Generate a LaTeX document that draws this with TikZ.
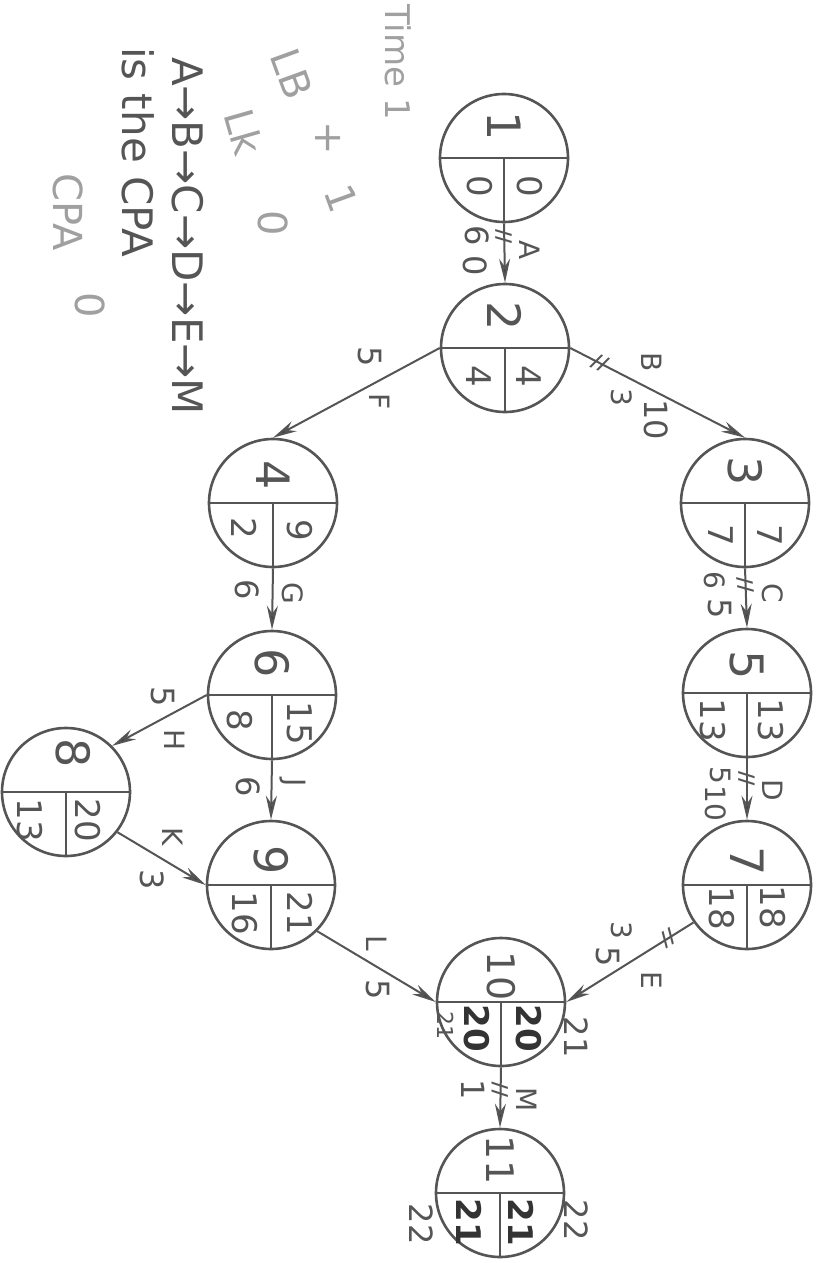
\documentclass[tikz,border=0pt]{standalone}
\usepackage{fontspec}
\setmainfont{DejaVu Sans}
\usetikzlibrary{positioning,arrows.meta}
\definecolor{pencil}{HTML}{555555}
\definecolor{faint}{HTML}{A0A0A0}

\begin{document}
\begin{tikzpicture}[x=1pt, y=-1pt, >={Stealth[length=24pt,width=11pt,fill=black!75]},
  event/.style={draw=pencil, circle, line width=2.6pt, minimum size=128pt, inner sep=0pt},
  split/.style={draw=pencil, line width=1.4pt},
  act/.style={draw=pencil, line width=2pt, ->},
  evnum/.style={rotate=-90, text=pencil, font=\fontsize{46}{46}\selectfont},
  tval/.style={rotate=-90, text=pencil, font=\fontsize{34}{34}\selectfont},
  scrib/.style={rotate=-90, text=black!80, font=\fontsize{34}{34}\selectfont\bfseries},
  alab/.style={rotate=-90, text=pencil, font=\fontsize{28}{28}\selectfont},
  adur/.style={rotate=-90, text=pencil, font=\fontsize{32}{32}\selectfont},
  crit/.style={sloped, text=pencil, inner sep=0pt, font=\fontsize{20}{20}\selectfont\bfseries},
  note/.style={rotate=-90, text=faint, font=\fontsize{40}{40}\selectfont}]
  \useasboundingbox (0,0) rectangle (826,1263);

  % events
  \node[event] (n1) at (504,158) {};
  \node[event] (n2) at (505,348) {};
  \node[event] (n3) at (745,503) {};
  \node[event] (n4) at (273,503) {};
  \node[event] (n5) at (747,693) {};
  \node[event] (n6) at (272,695) {};
  \node[event] (n7) at (747,885) {};
  \node[event] (n8) at (66,792) {};
  \node[event] (n9) at (271,885) {};
  \node[event] (n10) at (501,1002) {};
  \node[event] (n11) at (500,1193) {};

  \draw[split] (n1.west) -- (n1.east) (n1.center) -- (n1.south);
  \draw[split] (n2.west) -- (n2.east) (n2.center) -- (n2.south);
  \draw[split] (n3.west) -- (n3.east) (n3.center) -- (n3.south);
  \draw[split] (n4.west) -- (n4.east) (n4.center) -- (n4.south);
  \draw[split] (n5.west) -- (n5.east) (n5.center) -- (n5.south);
  \draw[split] (n6.west) -- (n6.east) (n6.center) -- (n6.south);
  \draw[split] (n7.west) -- (n7.east) (n7.center) -- (n7.south);
  \draw[split] (n8.west) -- (n8.east) (n8.center) -- (n8.south);
  \draw[split] (n9.west) -- (n9.east) (n9.center) -- (n9.south);
  \draw[split] (n10.west) -- (n10.east) (n10.center) -- (n10.south);
  \draw[split] (n11.west) -- (n11.east) (n11.center) -- (n11.south);

  % numbers in the events
  \node[evnum] (n1id) at ([yshift=32pt]n1.center) {1};
  \node[tval] (n1es) at ([xshift=-24pt,yshift=-28pt]n1.center) {0};
  \node[tval] (n1ls) at ([xshift=26pt,yshift=-28pt]n1.center) {0};
  \node[evnum] (n2id) at ([yshift=32pt]n2.center) {2};
  \node[tval] (n2es) at ([xshift=-26pt,yshift=-28pt]n2.center) {4};
  \node[tval] (n2ls) at ([xshift=24pt,yshift=-28pt]n2.center) {4};
  \node[evnum] (n3id) at ([yshift=32pt]n3.center) {3};
  \node[tval] (n3es) at ([xshift=-24pt,yshift=-32pt]n3.center) {7};
  \node[tval] (n3ls) at ([xshift=25pt,yshift=-32pt]n3.center) {7};
  \node[evnum] (n4id) at ([yshift=28pt]n4.center) {4};
  \node[tval] (n4es) at ([xshift=-29pt,yshift=-25pt]n4.center) {2};
  \node[tval] (n4ls) at ([xshift=27pt,yshift=-27pt]n4.center) {9};
  \node[evnum] (n5id) at ([yshift=28pt]n5.center) {5};
  \node[tval] (n5es) at ([xshift=-34pt,yshift=-27pt]n5.center) {13};
  \node[tval] (n5ls) at ([xshift=24pt,yshift=-27pt]n5.center) {13};
  \node[evnum] (n6id) at ([yshift=32pt]n6.center) {6};
  \node[tval] (n6es) at ([xshift=-32pt,yshift=-25pt]n6.center) {8};
  \node[tval] (n6ls) at ([xshift=28pt,yshift=-28pt]n6.center) {15};
  \node[evnum] (n7id) at ([yshift=24pt]n7.center) {7};
  \node[tval] (n7es) at ([xshift=-25pt,yshift=-23pt]n7.center) {18};
  \node[tval] (n7ls) at ([xshift=26pt,yshift=-22pt]n7.center) {18};
  \node[evnum] (n8id) at ([xshift=7pt,yshift=39pt]n8.center) {8};
  \node[tval] (n8es) at ([xshift=-36pt,yshift=-28pt]n8.center) {13};
  \node[tval] (n8ls) at ([xshift=22pt,yshift=-28pt]n8.center) {20};
  \node[evnum] (n9id) at ([yshift=25pt]n9.center) {9};
  \node[tval] (n9es) at ([xshift=-26pt,yshift=-28pt]n9.center) {16};
  \node[tval] (n9ls) at ([xshift=29pt,yshift=-28pt]n9.center) {21};
  \node[evnum, font=\fontsize{38}{38}\selectfont] (n10id) at ([yshift=26pt]n10.center) {10};
  \node[scrib] (n10es) at ([xshift=-24pt,yshift=-26pt]n10.center) {20};
  \node[scrib] (n10ls) at ([xshift=28pt,yshift=-26pt]n10.center) {20};
  \node[evnum, font=\fontsize{38}{38}\selectfont] (n11id) at ([yshift=33pt]n11.center) {11};
  \node[scrib] (n11es) at ([xshift=-31pt,yshift=-29pt]n11.center) {21};
  \node[scrib] (n11ls) at ([xshift=21pt,yshift=-29pt]n11.center) {21};
  \node[alab, font=\fontsize{22}{22}\selectfont] (n10fix1) at (446,1025) {21};
  \node[adur] (n10fix2) at (576,1037) {21};
  \node[adur] (n11fix1) at (421,1224) {22};
  \node[adur] (n11fix2) at (576,1220) {22};

  % activities
  \draw[act] (n1.south) -- node[crit, pos=.22] (tA) {//} (n2.north);
  \draw[act] (n2.east) -- node[crit, pos=.17] (tB) {//} (n3.north);
  \draw[act] (n3.south) -- node[crit, pos=.28] (tC) {//} (n5.north);
  \draw[act] (n5.south) -- node[crit, pos=.33] (tD) {//} (n7.north);
  \draw[act] (n7.215) -- node[crit, pos=.2] (tE) {//} (n10.east);
  \draw[act] (n10.south) -- node[crit, pos=.37] (tM) {//} (n11.north);
  \draw[act] (n2.west) -- (n4.north);
  \draw[act] (n4.south) -- (n6.north);
  \draw[act] (n6.west) -- (n8.45);
  \draw[act] (n6.south) -- (n9.north);
  \draw[act] (n8.-38) -- (n9.west);
  \draw[act] (n9.-45) -- (n10.west);

  \node[alab] (labA) at (530,250) {A};
  \node[adur] (durA) at (477,236) {6};
  \node[adur] (esA) at (475,266) {0};
  \node[alab] (labB) at (652,362) {B};
  \node[alab] (esB) at (622,397) {3};
  \node[adur] (durB) at (656,420) {10};
  \node[alab] (labC) at (773,593) {C};
  \node[alab] (esC) at (715,580) {6};
  \node[adur] (durC) at (720,609) {5};
  \node[alab] (labD) at (773,790) {D};
  \node[alab] (esD) at (720,775) {5};
  \node[alab] (durD) at (716,803) {10};
  \node[alab] (labE) at (652,980) {E};
  \node[alab] (esE) at (622,930) {3};
  \node[adur] (durE) at (608,957) {5};
  \node[adur] (durF) at (370,357) {5};
  \node[alab] (labF) at (380,402) {F};
  \node[adur] (durG) at (247,590) {6};
  \node[alab] (labG) at (293,593) {G};
  \node[adur] (durH) at (163,697) {5};
  \node[alab] (labH) at (175,740) {H};
  \node[adur] (durJ) at (248,787) {6};
  \node[alab] (labJ) at (293,783) {J};
  \node[alab] (labK) at (173,837) {K};
  \node[adur] (durK) at (152,880) {3};
  \node[alab] (labL) at (377,943) {L};
  \node[adur] (durL) at (378,990) {5};
  \node[adur] (durM) at (473,1090) {1};
  \node[alab] (labM) at (527,1100) {M};

  % notes
  \node[note, font=\fontsize{34}{34}\selectfont] (time) at (398,62) {Time 1};
  \node[note, rotate=20] (lb) at (292,74) {LB};
  \node[note] (lbplus) at (328,138) {+};
  \node[note, rotate=20] (lbone) at (342,198) {1};
  \node[note, rotate=16] (lk) at (244,132) {Lk};
  \node[note] (lkzero) at (273,223) {0};
  \node[note, text=pencil, font=\fontsize{42}{42}\selectfont] (cpath) at (188,236) {A→B→C→D→E→M};
  \node[note, text=pencil, font=\fontsize{42}{42}\selectfont] (iscpa) at (138,152) {is the CPA};
  \node[note] (cpa) at (68,212) {CPA};
  \node[note] (cpazero) at (90,305) {0};
\end{tikzpicture}
\end{document}
